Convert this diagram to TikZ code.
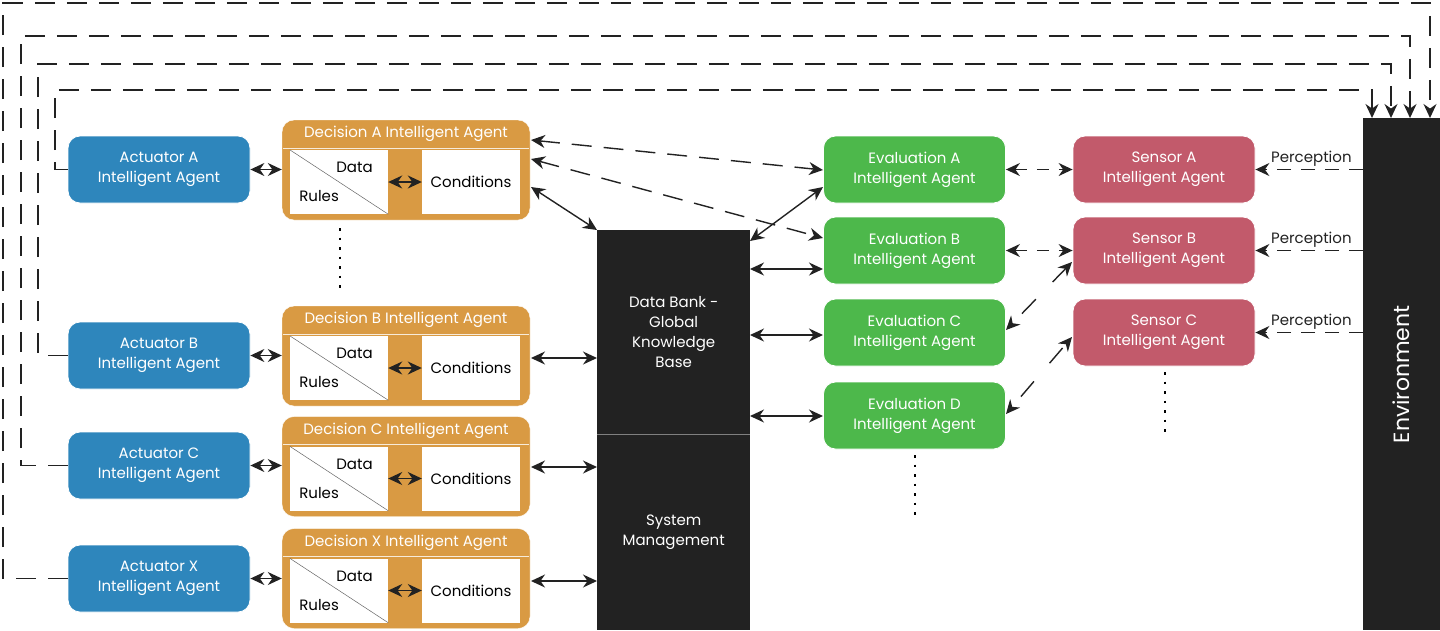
\documentclass[tikz,border=0pt]{standalone}
\usepackage{fontspec}
\setmainfont{Poppins}[Scale=1]
\usetikzlibrary{arrows.meta}
\definecolor{blu}{HTML}{2E86BC}
\definecolor{org}{HTML}{D99A43}
\definecolor{grn}{HTML}{4DB84B}
\definecolor{red}{HTML}{C25A6B}
\definecolor{blk}{HTML}{222222}
\begin{document}
\begin{tikzpicture}[x=1pt,y=-1pt,
  every node/.style={font=\fontsize{15}{20}\selectfont},
  agent/.style={rounded corners=12pt,minimum width=182pt,minimum height=67pt,align=center,text=white,draw=white,line width=0.8pt,inner sep=0},
  act/.style={agent,fill=blu},
  ev/.style={agent,fill=grn},
  sen/.style={agent,fill=red},
  dec/.style={rounded corners=12pt,fill=org,draw=white,minimum width=248pt,minimum height=100pt,inner sep=0},
  wb/.style={fill=white,minimum width=98pt,minimum height=64pt,inner sep=0},
  myone/.style={-{Stealth[length=14pt,width=13pt]}},
  mytwo/.style={{Stealth[length=14pt,width=13pt]}-{Stealth[length=14pt,width=13pt]}},
  dsh/.style={dash pattern=on 20pt off 12pt},
  ln/.style={line width=1.4pt,blk}]
\useasboundingbox (0,0) rectangle (1440,630);
% boxes
\node[act] (aA) at (159,169.5) {Actuator A\\Intelligent Agent};
\node[act] (aB) at (159,355.5) {Actuator B\\Intelligent Agent};
\node[act] (aC) at (159,465.5) {Actuator C\\Intelligent Agent};
\node[act] (aX) at (159,578.5) {Actuator X\\Intelligent Agent};
\foreach \n/\y/\t in {A/170/Decision A,B/356/Decision B,C/466.5/Decision C,X/578.5/Decision X}{
  \node[dec] (d\n) at (406,\y) {};
  \draw[white!80!org,line width=1pt] (283,\y-50+28) -- (529,\y-50+28);
  \node[text=white] at (406,\y-36) {\t\ Intelligent Agent};
  \node[wb] (r\n) at (339,\y+12) {};
  \node[wb] (c\n) at (471,\y+12) {Conditions};
  \draw[gray!80!black,line width=0.5pt] (r\n.north west) -- (r\n.south east);
  \node[anchor=north east] at ([xshift=-12pt,yshift=-9pt]r\n.north east) {Data};
  \node[anchor=south west] at ([xshift=6pt,yshift=9pt]r\n.south west) {Rules};
  \draw[ln,mytwo] (r\n.east) -- (c\n.west);
}
\node[ev] (eA) at (914.5,169.5) {Evaluation A\\Intelligent Agent};
\node[ev] (eB) at (914.5,250.5) {Evaluation B\\Intelligent Agent};
\node[ev] (eC) at (914.5,332.5) {Evaluation C\\Intelligent Agent};
\node[ev] (eD) at (914.5,415.5) {Evaluation D\\Intelligent Agent};
\node[sen] (sA) at (1164,169.5) {Sensor A\\Intelligent Agent};
\node[sen] (sB) at (1164,250.5) {Sensor B\\Intelligent Agent};
\node[sen] (sC) at (1164,332.5) {Sensor C\\Intelligent Agent};
% data bank
\node[fill=blk,minimum width=153pt,minimum height=204pt,inner sep=0,anchor=north west,text=white,align=center] (db) at (597,230) {Data Bank -\\Global\\Knowledge\\Base};
\node[fill=blk,minimum width=153pt,minimum height=196pt,inner sep=0,anchor=north west,text=white,align=center] (sm) at (597,434) {System\\Management};
\draw[gray,line width=1pt] (597,434) -- (750,434);
\node[fill=blk,minimum width=77pt,minimum height=512pt,inner sep=0,anchor=north west] (env) at (1363,118) {};
\node[text=white,rotate=90,font=\fontsize{22}{26}\selectfont] at (env.center) {Environment};
% actuator-decision
\foreach \n in {A,B,C,X}{\draw[ln,mytwo] (aA.east|-a\n.east) -- (d\n.west|-a\n.east);}
% decision - db
\draw[ln,mytwo] (531,187) -- (db.north west);
\draw[ln,mytwo] (531,358) -- (597,358);
\draw[ln,mytwo] (531,467) -- (597,467);
\draw[ln,mytwo] (531,581) -- (597,581);
\draw[ln,mytwo,dsh] (531,140) -- (823,170);
\draw[ln,mytwo,dsh] (531,159) -- (823,238);
% db - eval
\draw[ln,mytwo] (750,241) -- (823,187);
\draw[ln,mytwo] (750,269) -- (823,269);
\draw[ln,mytwo] (750,335) -- (823,335);
\draw[ln,mytwo] (750,416) -- (823,416);
% eval - sensor
\draw[ln,mytwo,dash pattern=on 12pt off 10pt] (eA.east) -- (sA.west);
\draw[ln,mytwo,dash pattern=on 12pt off 10pt] (eB.east) -- (sB.west);
\draw[ln,mytwo,dash pattern=on 20pt off 24pt,dash phase=-14pt] (1006,330) -- (1072,262);
\draw[ln,mytwo,dash pattern=on 20pt off 24pt,dash phase=-14pt] (1006,414) -- (1072,337);
% perception
\foreach \s in {A,B,C}{
  \draw[ln,myone,dash pattern=on 14pt off 10pt] (env.west|-s\s.east) -- node[above=-1pt,pos=0.48]{Perception} (s\s.east);
}
% feedback loops
\draw[ln,myone,dsh] (aA.west) -- (55,169.5) -- (55,90) -- (1372,90) -- (1372,118);
\draw[ln,myone,dsh] (aB.west) -- (38,355.5) -- (38,64) -- (1391,64) -- (1391,118);
\draw[ln,myone,dsh] (aC.west) -- (21,465.5) -- (21,36) -- (1410,36) -- (1410,118);
\draw[ln,myone,dsh] (aX.west) -- (3,578.5) -- (3,3) -- (1430,3) -- (1430,118);
% dots
\draw[line width=2.5pt,dash pattern=on 2.5pt off 7pt] (340,228) -- (340,292);
\draw[line width=2.5pt,dash pattern=on 2.5pt off 7pt] (915,455) -- (915,519);
\draw[line width=2.5pt,dash pattern=on 2.5pt off 7pt] (1165,372) -- (1165,436);
\end{tikzpicture}
\end{document}
